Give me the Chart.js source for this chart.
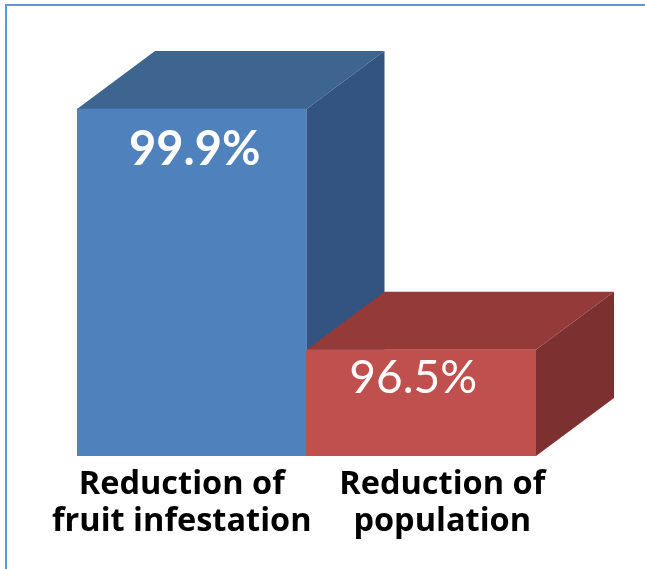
<!DOCTYPE html>
<html>
<head>
<meta charset="utf-8">
<script src="https://cdn.jsdelivr.net/npm/chart.js@4.4.0/dist/chart.umd.min.js"></script>
<style>
  html, body { margin: 0; padding: 0; background: #fff; overflow: hidden; }
  #wrap { position: relative; width: 645px; height: 569px; }
  #frame { position: absolute; left: 5px; top: 4px; width: 700px; height: 620px; border: 2px solid #5b9bd5; box-sizing: border-box; }
  canvas { position: absolute; left: 0; top: 0; }
</style>
</head>
<body>
<div id="wrap">
  <div id="frame"></div>
  <canvas id="chart" width="645" height="569"></canvas>
</div>
<script>
// chart data
const categories = [['Reduction of', 'fruit infestation'], ['Reduction of', 'population']];
const values = [99.9, 96.5];
const valueLabels = ['99.9%', '96.5%'];

const frontColors = ['#4f81bd', '#c0504d'];
const topColors = ['#3d6590', '#943a38'];
const sideColors = ['#335480', '#7c3130'];

// 3d depth offset
const DX = 78, DY = -58;

const faces3d = {
  id: 'faces3d',
  beforeDatasetsDraw(chart) {
    const c = chart.ctx;
    const meta = chart.getDatasetMeta(0);
    const b = chart.chartArea.bottom;
    meta.data.forEach((bar, i) => {
      const l = bar.x - bar.width / 2, r = bar.x + bar.width / 2;
      const t = bar.y;
      // top face
      c.fillStyle = topColors[i];
      c.beginPath();
      c.moveTo(l, t); c.lineTo(l + DX, t + DY); c.lineTo(r + DX, t + DY); c.lineTo(r, t);
      c.closePath(); c.fill();
      // side face
      c.fillStyle = sideColors[i];
      c.beginPath();
      c.moveTo(r, t); c.lineTo(r + DX, t + DY); c.lineTo(r + DX, b + DY); c.lineTo(r, b);
      c.closePath(); c.fill();
    });
  },
  afterDatasetsDraw(chart) {
    const c = chart.ctx;
    const meta = chart.getDatasetMeta(0);
    c.save();
    c.fillStyle = '#ffffff';
    c.textAlign = 'center';
    c.textBaseline = 'middle';
    meta.data.forEach((bar, i) => {
      c.font = i === 0 ? 'bold 47px Lato' : '46px Lato';
      const shift = i === 0 ? 3 : -8;
      c.fillText(valueLabels[i], bar.x + shift, bar.y + (i === 0 ? 41 : 28));
    });
    // category labels
    c.fillStyle = '#000000';
    c.font = 'bold 32.5px "Open Sans"';
    c.textBaseline = 'alphabetic';
    const xs = chart.scales.x;
    categories.forEach((lines, i) => {
      const cx = xs.getPixelForValue(i) + (i === 0 ? -10 : 21);
      lines.forEach((s, k) => {
        c.fillText(s, cx, chart.chartArea.bottom + 38 + k * 37);
      });
    });
    c.restore();
  }
};

new Chart(document.getElementById('chart'), {
  type: 'bar',
  data: {
    labels: categories,
    datasets: [{
      data: values,
      backgroundColor: frontColors,
      borderWidth: 0,
      barPercentage: 1,
      categoryPercentage: 1
    }]
  },
  options: {
    responsive: false,
    animation: false,
    layout: { padding: { left: 77, right: 109, top: 102, bottom: 113 } },
    scales: {
      x: { display: false },
      y: { display: false, min: 95, max: 100 }
    },
    plugins: { legend: { display: false }, tooltip: { enabled: false } }
  },
  plugins: [faces3d]
});
</script>
</body>
</html>
